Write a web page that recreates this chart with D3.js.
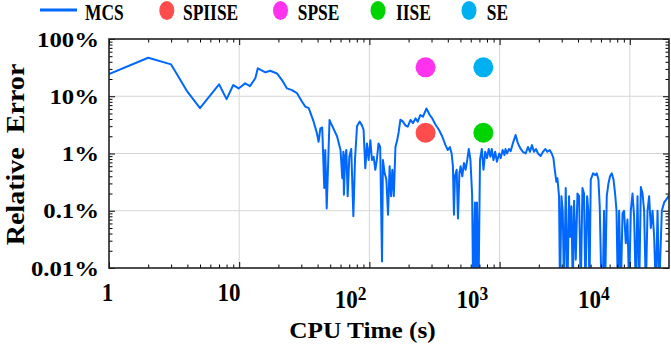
<!DOCTYPE html>
<html><head><meta charset="utf-8">
<script src="https://cdn.jsdelivr.net/npm/d3@7"></script>
<style>
body{margin:0;background:#fff;}
svg{display:block;}
text{font-family:"Liberation Serif","Times New Roman",serif;font-weight:bold;fill:#000;}
</style></head>
<body>
<svg id="chart" width="671" height="347"></svg>
<script>
// ---------- data ----------
const mcsTime = [1,2,3,4,5,7,8,9,9.9,11.1,12.1,13.3,13.9,15.9,17.3,19.5,21.3,23.3,25.4,27.8,30.4,32.2,34.2,37.3,39.5,40.7,42,43.4,45,45.8,47,49.4,
50,56.4,60,61.9,63.1,63.7,65.2,66.5,68.1,70.1,72.5,75.3,77.5,80.3,84.1,87.7,90.2,93,95.8,98.6,101.7,104.6,107.8,111,114,117.5,121,125,127,131,135,139,143,146.7,150,154,158.5,163.4,168,173,181,189,197,207,216,226,235,246,258,274,291,
304,323,342,362,384,400,415,428,438,446,454,468,479,491,502,517,532,548,564,580,597,615,626,646,657,670,689,707,730,752,775,800,825,850,870,897,925,953,994,1020,1055,1090,1110,1140,1180,1216,
1275,1327,1383,1452,1511,1585,1651,1711,1772,1836,1902,1971,2066,2153,2248,2328,2426,2512,2590,2664,2730,2780,2860,2910,2985,3054,3125,3220,3318,3415,3475,3563,3648,3733,3846,3962,4077,4200,4328,4449,4560,4700,4800,4900,5012,
5224,5408,5570,5741,5875,6012,6195,6340,6457,6653,6855,7047,7270,7498,7709,7907,8090,8278,8531,8790,9036,9311,9594,9880,10180,10490,10790,11120,11460,11800,12160,12530,12880,13280,13680,14070,14500,14950,15380,15850,16330,16810,17620,18370,19150,19850,20000];
const mcsError = [24.5,47,36,12,6.2,16.2,8.9,15.7,13.7,16.8,15,20.6,30.8,26.2,27.9,25,19.2,13.7,12.8,11.3,8.0,6.6,6.2,3.6,2.27,1.6,2.75,2.85,0.25,1.15,0.11,3.85,
3.6,2.0,1.15,0.37,1.07,0.19,0.88,1.15,0.18,0.88,1.2,0.08,0.77,3.0,3.6,3.1,2.6,0.55,1.5,0.77,1.7,0.77,0.88,0.52,0.77,1.5,1.3,0.013,0.77,0.45,0.35,0.085,0.6,0.18,0.52,0.18,1.3,1.7,2.4,3.9,3.6,3.1,2.95,3.85,3.4,4.1,3.6,4.7,4.4,6.1,4.7,
4.1,3.15,2.6,2.0,1.4,1.15,1.3,1.0,0.6,0.085,0.4,0.52,0.073,0.45,0.6,0.4,0.68,0.52,0.77,1.2,0.77,0.19,0.004,0.14,0.004,0.14,0.004,0.77,1.2,0.52,1.07,0.83,1.2,0.88,1.2,0.77,1.07,0.72,1.0,0.83,1.15,0.94,1.2,1.0,1.2,1.1,
1.6,2.1,1.5,1.2,1.07,1.0,1.3,1.07,1.4,1.07,1.2,1.0,0.9,1.07,1.2,1.07,1.15,1.0,0.83,0.48,0.32,0.37,0.18,0.004,0.18,0.1,0.004,0.25,0.004,0.18,0.035,0.12,0.004,0.15,0.014,0.2,0.18,0.004,0.25,0.2,0.004,0.18,0.1,0.004,0.35,
0.45,0.42,0.45,0.35,0.12,0.01,0.004,0.1,0.004,0.18,0.3,0.4,0.45,0.35,0.2,0.1,0.004,0.1,0.004,0.09,0.1,0.027,0.07,0.004,0.1,0.2,0.08,0.004,0.18,0.004,0.26,0.2,0.1,0.004,0.1,0.18,0.05,0.1,0.035,0.004,0.1,0.004,0.1,0.14,0.16,0.18,0.19];

const methodNames = ["SPIISE","SPSE","IISE","SE"];
const methodTime  = [270, 270, 750, 750];
const methodError = [2.3, 32, 2.3, 32];
const methodColors = ["#ff4d4d","#ff33ee","#00d400","#00b0f0"];
const lineColor = "#0068ff";

const xMajorTicks = [1,10,100,1000,10000];
const xTickLabels = ["1","10","10^2","10^3","10^4"];
const yMajorTicks = [0.01,0.1,1,10,100];
const yTickLabels = ["0.01%","0.1%","1%","10%","100%"];
const legendLabels = ["MCS","SPIISE","SPSE","IISE","SE"];

// ---------- layout ----------
const L=109, R=669, T=39, B=268;
const x = d3.scaleLog().domain([1,20000]).range([L,R]);
const y = d3.scaleLog().domain([0.01,100]).range([B,T]);
const svg = d3.select("#chart");

function minorTicks(dom){
  const out=[];
  for(let e=Math.floor(Math.log10(dom[0])); e<=Math.ceil(Math.log10(dom[1])); e++){
    for(let m=2;m<=9;m++){const v=m*Math.pow(10,e); if(v>dom[0]&&v<dom[1]) out.push(v);}
  }
  return out;
}
const xMinor = minorTicks(x.domain());
const yMinor = minorTicks(y.domain());

// grid
const grid = svg.append("g").attr("stroke","#d6d6d6").attr("stroke-width",1);
xMajorTicks.filter(v=>v>1).forEach(v=>grid.append("line").attr("x1",x(v)).attr("x2",x(v)).attr("y1",T).attr("y2",B));
yMajorTicks.filter(v=>v>0.01&&v<100).forEach(v=>grid.append("line").attr("y1",y(v)).attr("y2",y(v)).attr("x1",L).attr("x2",R));

// clip
svg.append("clipPath").attr("id","clip").append("rect").attr("x",L).attr("y",T).attr("width",R-L).attr("height",B-T);

// MCS line
const pts = mcsTime.map((t,i)=>[t,mcsError[i]]);
svg.append("path").datum(pts).attr("clip-path","url(#clip)")
  .attr("fill","none").attr("stroke",lineColor).attr("stroke-width",2).attr("stroke-linejoin","round")
  .attr("d",d3.line().x(d=>x(d[0])).y(d=>y(d[1])));

// method markers
svg.append("g").selectAll("circle").data(methodNames).join("circle")
  .attr("cx",(d,i)=>x(methodTime[i])).attr("cy",(d,i)=>y(methodError[i])).attr("r",10)
  .attr("fill",(d,i)=>methodColors[i]);

// axes (inward ticks)
function addAxis(gen, transform, vals, size){
  svg.append("g").attr("transform",transform)
    .call(gen.tickValues(vals).tickSize(-size).tickSizeOuter(0).tickFormat(""))
    .call(g=>g.select(".domain").remove())
    .call(g=>g.selectAll("line").attr("stroke","#000").attr("stroke-width",1));
}
addAxis(d3.axisBottom(x), `translate(0,${B})`, xMajorTicks, 6);
addAxis(d3.axisBottom(x), `translate(0,${B})`, xMinor, 3.5);
addAxis(d3.axisTop(x), `translate(0,${T})`, xMajorTicks, 6);
addAxis(d3.axisTop(x), `translate(0,${T})`, xMinor, 3.5);
addAxis(d3.axisLeft(y), `translate(${L},0)`, yMajorTicks, 6);
addAxis(d3.axisLeft(y), `translate(${L},0)`, yMinor, 3.5);
addAxis(d3.axisRight(y), `translate(${R},0)`, yMajorTicks, 6);
addAxis(d3.axisRight(y), `translate(${R},0)`, yMinor, 3.5);
svg.append("rect").attr("x",L).attr("y",T).attr("width",R-L).attr("height",B-T)
  .attr("fill","none").attr("stroke","#222").attr("stroke-width",1.6);

// y tick labels
yMajorTicks.forEach((v,i)=>{
  svg.append("text").attr("transform",`translate(99,${y(v)+7.5}) scale(1.18,1)`)
    .attr("text-anchor","end").attr("font-size",21).text(yTickLabels[i]);
});
// x tick labels
xMajorTicks.forEach((v,i)=>{
  const k = Math.log10(v);
  const cx = x(v) - 1.5 - 8.6*k;
  const lab = xTickLabels[i];
  if(lab.includes("^")){
    const [b,e] = lab.split("^");
    const t = svg.append("text").attr("transform",`translate(${cx},308) scale(0.92,1)`)
      .attr("text-anchor","middle").attr("font-size",25);
    t.append("tspan").text(b);
    t.append("tspan").attr("font-size",19).attr("dy",-8.5).text(e);
  } else {
    svg.append("text").attr("transform",`translate(${cx},301) scale(0.92,1)`)
      .attr("text-anchor","middle").attr("font-size",25).text(lab);
  }
});
// axis titles
svg.append("text").attr("transform","translate(362.5,338) scale(1.1,1)")
  .attr("text-anchor","middle").attr("font-size",23).text("CPU Time (s)");
svg.append("text").attr("transform","translate(23.5,154.5) rotate(-90) scale(1.1,1)")
  .attr("text-anchor","middle").attr("font-size",25.5).style("white-space","pre").text("Relative  Error");

// legend
const lg = svg.append("g");
lg.append("line").attr("x1",40).attr("x2",77).attr("y1",10).attr("y2",10)
  .attr("stroke",lineColor).attr("stroke-width",3);
const legX = [85,183,297.7,396,486.7];
const legMarkX = [null,166.8,280.5,378,469];
legendLabels.forEach((lab,i)=>{
  if(i>0) lg.append("ellipse").attr("cx",legMarkX[i]).attr("cy",10.5).attr("rx",7.5).attr("ry",9.5).attr("fill",methodColors[i-1]);
  lg.append("text").attr("transform",`translate(${legX[i]},19.5) scale(0.83,1.05)`)
    .attr("font-size",21).text(lab);
});
</script>
</body></html>
